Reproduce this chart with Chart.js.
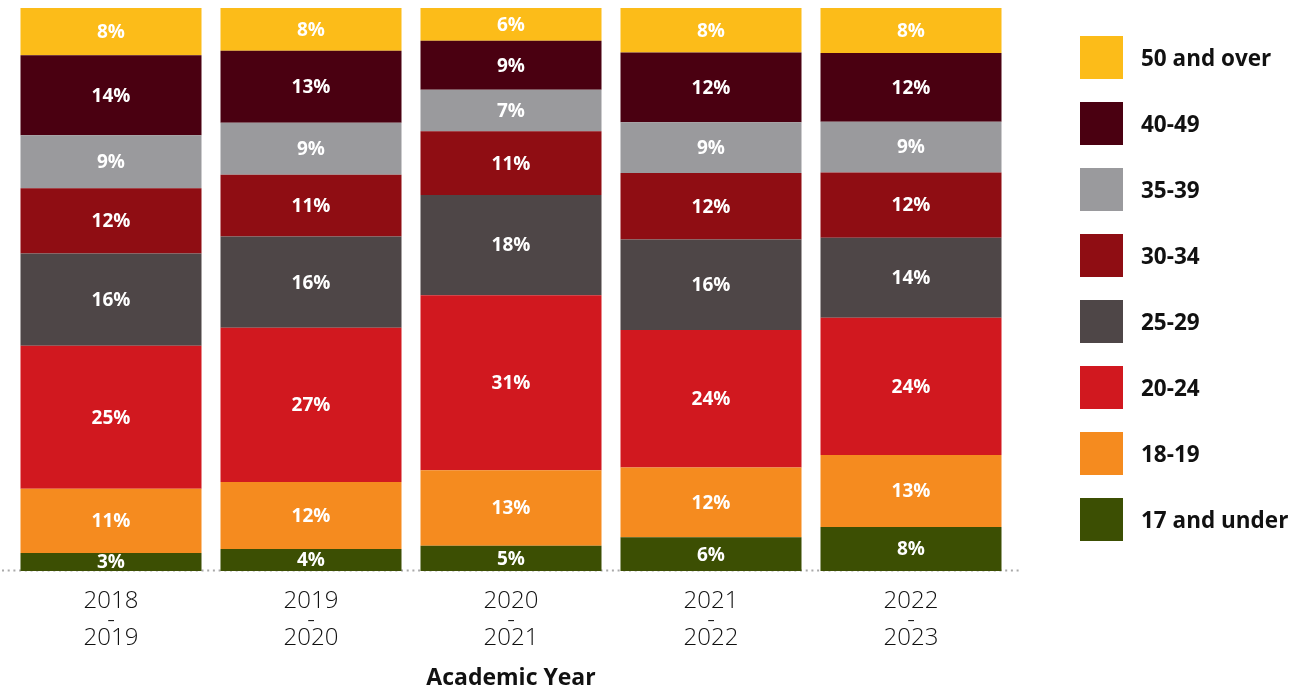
<!DOCTYPE html>
<html>
<head>
<meta charset="utf-8">
<script src="https://cdn.jsdelivr.net/npm/chart.js@4.4.1/dist/chart.umd.min.js"></script>
<style>
  html, body { margin: 0; padding: 0; background: #ffffff; }
  #wrap { width: 1290px; height: 691px; position: relative; }
</style>
</head>
<body>
<div id="wrap"><canvas id="chart"></canvas></div>
<script>
// Academic years (multi-line tick labels)
const years = [
  ['2018', '-', '2019'],
  ['2019', '-', '2020'],
  ['2020', '-', '2021'],
  ['2021', '-', '2022'],
  ['2022', '-', '2023']
];

// Age groups, bottom of the stack first
const ageGroups = ['17 and under', '18-19', '20-24', '25-29', '30-34', '35-39', '40-49', '50 and over'];

// Share of students (%) per age group, one value per academic year
const under17   = [3.2, 3.9, 4.5, 6.0, 7.8];
const age18to19 = [11.4, 11.9, 13.4, 12.4, 12.8];
const age20to24 = [25.4, 27.4, 31.1, 24.4, 24.4];
const age25to29 = [16.4, 16.2, 17.8, 16.1, 14.2];
const age30to34 = [11.6, 11.0, 11.3, 11.8, 11.6];
const age35to39 = [9.4, 9.2, 7.4, 9.0, 9.0];
const age40to49 = [14.2, 12.8, 8.7, 12.4, 12.2];
const age50plus = [8.4, 7.6, 5.8, 7.9, 8.0];

const seriesValues = [under17, age18to19, age20to24, age25to29, age30to34, age35to39, age40to49, age50plus];
const seriesColors = ['#3c4f03', '#f58b1f', '#d1181f', '#4e4647', '#8f0d13', '#9a9a9d', '#4a0011', '#fcbc19'];

const FONT = '"Open Sans", "Lato", "DejaVu Sans", sans-serif';

// Dotted baseline under the bars
const baselinePlugin = {
  id: 'baseline',
  beforeDatasetsDraw(chart) {
    const { ctx, chartArea } = chart;
    ctx.save();
    ctx.strokeStyle = '#a9a9a9';
    ctx.lineWidth = 2;
    ctx.setLineDash([2, 3.7]);
    ctx.beginPath();
    ctx.moveTo(2, chartArea.bottom - 0.5);
    ctx.lineTo(chartArea.right + 9, chartArea.bottom - 0.5);
    ctx.stroke();
    ctx.restore();
  }
};

// Percentage labels centred in each stacked segment
const segmentLabelPlugin = {
  id: 'segmentLabels',
  afterDatasetsDraw(chart) {
    const { ctx, chartArea } = chart;
    ctx.save();
    ctx.beginPath();
    ctx.rect(chartArea.left, chartArea.top, chartArea.right - chartArea.left, chartArea.bottom - chartArea.top);
    ctx.clip();
    ctx.font = 'bold 19px ' + FONT;
    ctx.fillStyle = '#ffffff';
    ctx.textAlign = 'center';
    ctx.textBaseline = 'middle';
    chart.data.datasets.forEach((ds, i) => {
      const meta = chart.getDatasetMeta(i);
      meta.data.forEach((bar, j) => {
        const v = ds.data[j];
        const y = (bar.y + bar.base) / 2;
        ctx.fillText(Math.round(v) + '%', bar.x, y + 1);
      });
    });
    ctx.restore();
  }
};

// Legend on the right: squares with bold labels, top group first
const sideLegendPlugin = {
  id: 'sideLegend',
  afterDraw(chart) {
    const { ctx } = chart;
    const boxX = 1080, boxSize = 43, firstTop = 36, step = 66, textX = 1141;
    ctx.save();
    ctx.font = 'bold 22.5px ' + FONT;
    ctx.textAlign = 'left';
    ctx.textBaseline = 'middle';
    const items = chart.data.datasets.slice().reverse();
    items.forEach((ds, k) => {
      const top = firstTop + k * step;
      ctx.fillStyle = ds.backgroundColor;
      ctx.fillRect(boxX, top, boxSize, boxSize);
      ctx.fillStyle = '#111111';
      ctx.fillText(ds.label, textX, top + boxSize / 2 + 2);
    });
    ctx.restore();
  }
};

const datasets = ageGroups.map((name, i) => ({
  label: name,
  data: seriesValues[i],
  backgroundColor: seriesColors[i],
  borderWidth: 0,
  barPercentage: 0.905,
  categoryPercentage: 1.0
}));

new Chart(document.getElementById('chart'), {
  type: 'bar',
  data: { labels: years, datasets },
  options: {
    responsive: true,
    maintainAspectRatio: false,
    animation: false,
    devicePixelRatio: 1,
    layout: { padding: { left: 11, right: 279, top: 8, bottom: 0 } },
    plugins: {
      legend: { display: false },
      tooltip: { enabled: false }
    },
    scales: {
      x: {
        stacked: true,
        grid: { display: false, drawTicks: false },
        border: { display: false },
        ticks: {
          padding: 21,
          color: '#111111',
          font: { family: FONT, size: 24, weight: 300, lineHeight: 0.77 }
        },
        title: {
          display: true,
          text: 'Academic Year',
          color: '#111111',
          font: { family: FONT, size: 23, weight: 'bold', lineHeight: 1.1 },
          padding: { top: 0, bottom: 0 }
        },
        afterFit(scale) { scale.height = 120; }
      },
      y: {
        stacked: true,
        display: false,
        min: 0,
        max: 100
      }
    }
  },
  plugins: [baselinePlugin, segmentLabelPlugin, sideLegendPlugin]
});
</script>
</body>
</html>
